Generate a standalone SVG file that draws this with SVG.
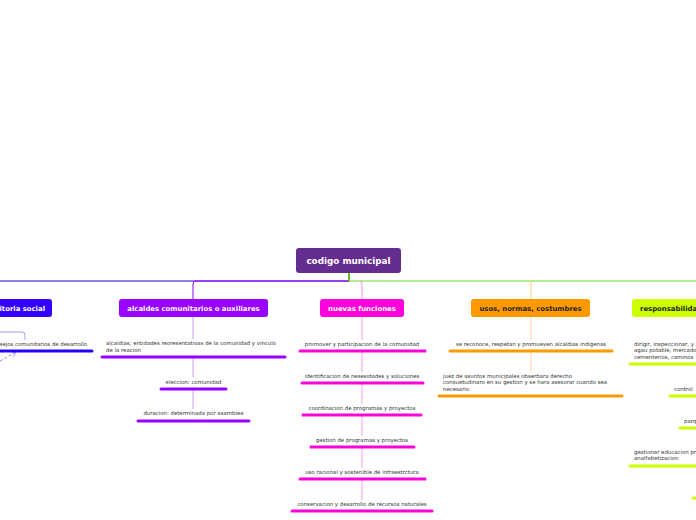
<svg xmlns="http://www.w3.org/2000/svg" width="696" height="520" viewBox="0 0 696 520">
<style>
.nt{font-family:"DejaVu Sans",Verdana,sans-serif;font-weight:bold;font-size:6.9px;text-anchor:middle}
.ct{font-family:"DejaVu Sans",Verdana,sans-serif;font-size:5.4px;fill:#333}
.m{text-anchor:middle}
.ul{fill:none;stroke-width:3;stroke-linecap:round}
.c{fill:none;stroke-width:1}
</style>
<defs>
<marker id="ah" markerWidth="6" markerHeight="6" refX="5" refY="3" orient="auto" markerUnits="userSpaceOnUse"><path d="M0,0 L5,3 L0,6" fill="none" stroke="#9988ee" stroke-width="0.8"/></marker>
</defs>
<rect width="696" height="520" fill="#fff"/>
<g id="connectors">
<path class="c" stroke="#2200cc" d="M349,281 H0"/>
<path class="c" stroke="#9900ff" d="M349,281 H196 Q193,281 193,284 V299"/>
<path class="c" stroke="#66dd22" d="M349,281 H696"/>
<path class="c" stroke="#ff88ee" d="M359,281 Q362,281 362,284 V299"/>
<path class="c" stroke="#ffcc77" d="M528,281 Q531,281 531,284 V299"/>
<path stroke="#66bb22" stroke-width="2" d="M349,273 V281"/>
<path class="c" stroke="#cc99ff" d="M193,317 V339 M193,358 V377 M193,390 V409"/>
<path class="c" stroke="#ff99ee" d="M362,317 V340 M362,352 V372 M362,384 V404 M362,416 V436 M362,448 V468 M362,480 V500"/>
<path class="c" stroke="#ffd599" d="M531,317 V340 M531,352 V372"/>
<path class="c" stroke="#aa99ff" d="M0,332 H22 Q25,332 25,335 V340"/>
<path class="c" stroke="#9988ee" stroke-dasharray="3,2" d="M0,361 L16,352" marker-end="url(#ah)"/>
</g>
<g id="root">
<rect x="296" y="248" width="105" height="25" rx="3" fill="#662d91"/>
<text class="nt" x="348.5" y="264" fill="#fff" style="font-size:8.8px">codigo municipal</text>
</g>
<g id="auditoria">
<rect x="-40" y="299" width="92" height="18" rx="3" fill="#3300ff"/>
<text class="nt" x="45" y="311" fill="#fff" style="text-anchor:end">auditoria social</text>
</g>
<g id="consejos">
<text class="ct" x="87" y="346" style="text-anchor:end">consejos comunitarios de desarrollo</text>
<path class="ul" stroke="#2200ff" d="M-5,351 H92"/>
</g>
<g id="alcaldes">
<rect x="119" y="299" width="149" height="18" rx="3" fill="#9900ff"/>
<text class="nt" x="193.5" y="311" fill="#fff">alcaldes comunitarios o auxiliares</text>
</g>
<g id="alcaldias">
<text class="ct" x="106" y="345">alcaldias: entidades reoresentativas de la comunidad y vinculo</text>
<text class="ct" x="106" y="351.5">de la reacion</text>
<path class="ul" stroke="#9900ff" d="M102,357 H285"/>
</g>
<g id="eleccion">
<text class="ct m" x="193.5" y="383.5">eleccion: comunidad</text>
<path class="ul" stroke="#9900ff" d="M161,389 H226"/>
</g>
<g id="duracion">
<text class="ct m" x="193.5" y="415">duracion: determinada por asamblea</text>
<path class="ul" stroke="#9900ff" d="M138,421 H249"/>
</g>
<g id="nuevas">
<rect x="320" y="299" width="84" height="18" rx="3" fill="#ff00dd"/>
<text class="nt" x="362" y="311" fill="#fff">nuevas funciones</text>
</g>
<g id="n1"><text class="ct m" x="362" y="346">promover y participacion de la comunidad</text><path class="ul" stroke="#ff00dd" d="M300,351 H425"/></g>
<g id="n2"><text class="ct m" x="362" y="378">identificacion de nesesidades y soluciones</text><path class="ul" stroke="#ff00dd" d="M302,383 H423"/></g>
<g id="n3"><text class="ct m" x="362" y="410">coordinacion de programas y proyectos</text><path class="ul" stroke="#ff00dd" d="M303,415 H421"/></g>
<g id="n4"><text class="ct m" x="362" y="442">gestion de programas y proyectos</text><path class="ul" stroke="#ff00dd" d="M311,447 H414"/></g>
<g id="n5"><text class="ct m" x="362" y="474">uso racional y sostenible de infraestrctura</text><path class="ul" stroke="#ff00dd" d="M300,479 H425"/></g>
<g id="n6"><text class="ct m" x="362" y="506">conservacion y desarrollo de recursos naturales</text><path class="ul" stroke="#ff00dd" d="M292,511 H432"/></g>
<g id="usos">
<rect x="471" y="299" width="119" height="18" rx="3" fill="#ff9900"/>
<text class="nt" x="530.5" y="311" fill="#222">usos, normas, costumbres</text>
</g>
<g id="u1"><text class="ct m" x="531" y="346">se reconoce, respetan y promueven alcaldias indigenas</text><path class="ul" stroke="#ff9900" d="M450,351 H612"/></g>
<g id="u2">
<text class="ct" x="443" y="378">juez de asuntos municipales obserbara derecho</text>
<text class="ct" x="443" y="384.4">consuetudinaro en su gestion y se hara asesorar cuando sea</text>
<text class="ct" x="443" y="390.8">necesario</text>
<path class="ul" stroke="#ff9900" d="M439,396 H622"/>
</g>
<g id="resp">
<rect x="632" y="299" width="90" height="18" rx="3" fill="#ccff00"/>
<text class="nt" x="640" y="311" fill="#222" style="text-anchor:start">responsabilidades</text>
</g>
<g id="r1">
<text class="ct" x="634" y="346">dirigir, inspeccionar, y</text>
<text class="ct" x="634" y="352.3">agau potable, mercados</text>
<text class="ct" x="634" y="358.6">cementerios, caminos</text>
<path class="ul" stroke="#ccff00" d="M630,364 H700"/>
</g>
<g id="r2"><text class="ct" x="674" y="391">control</text><path class="ul" stroke="#ccff00" d="M670,396 H700"/></g>
<g id="r3"><text class="ct" x="684" y="423">parques</text><path class="ul" stroke="#ccff00" d="M680,428 H700"/></g>
<g id="r4">
<text class="ct" x="634" y="454">gestionar educacion pr</text>
<text class="ct" x="634" y="460.3">analfabetizacion</text>
<path class="ul" stroke="#ccff00" d="M630,466 H700"/>
</g>
<g id="r5"><path class="ul" stroke="#ccff00" d="M693,498 H700"/></g>
</svg>
